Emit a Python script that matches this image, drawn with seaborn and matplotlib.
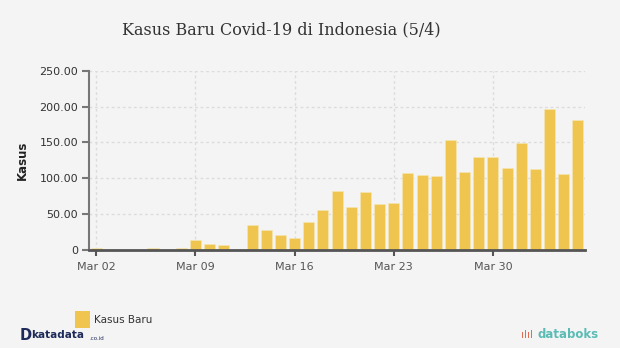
import matplotlib
matplotlib.use("Agg")
import matplotlib.pyplot as plt
import seaborn as sns
import pandas as pd
import numpy as np
from matplotlib.ticker import FixedLocator, FuncFormatter

dates = pd.date_range("2020-03-02", "2020-04-05", freq="D")
kasus_baru = [2, 0, 0, 0, 2, 0, 2, 13, 8, 7, 0, 35, 27, 21, 17, 38, 55, 82, 60, 81,
              64, 65, 107, 104, 103, 153, 109, 130, 129, 114, 149, 113, 196, 106, 181]
tick_labels = ["Mar 02", "Mar 09", "Mar 16", "Mar 23", "Mar 30"]
y_ticks = [0, 50, 100, 150, 200, 250]
title = "Kasus Baru Covid-19 di Indonesia (5/4)"
series_name = "Kasus Baru"

df = pd.DataFrame({"tanggal": dates, "kasus": kasus_baru})
df["idx"] = np.arange(len(df))

sns.set_style("white")
bg = "#f4f4f4"
fig = plt.figure(figsize=(6.2, 3.48), dpi=100, facecolor=bg)
ax = fig.add_axes([0.144, 0.2825, 0.7995, 0.5143])
ax.set_facecolor(bg)

bar_color = "#efc54f"
sns.barplot(data=df, x="idx", y="kasus", color=bar_color, saturation=1,
            width=0.78, ax=ax, native_scale=True, edgecolor="#f7e7b8", linewidth=0.4)

ax.set_xlim(-0.5, len(df) - 0.5)
ax.set_ylim(0, 250)
tick_pos = [i for i, d in enumerate(dates) if d.strftime("%b %d") in tick_labels]
ax.xaxis.set_major_locator(FixedLocator(tick_pos))
ax.set_xticklabels(tick_labels)
ax.yaxis.set_major_locator(FixedLocator(y_ticks))
ax.yaxis.set_major_formatter(FuncFormatter(lambda v, p: "0" if v == 0 else f"{v:.2f}"))

ax.grid(True, axis="both", color="#dcdcdc", linestyle=(0, (2, 2)), linewidth=1.0)
ax.set_axisbelow(True)
for s in ["top", "right"]:
    ax.spines[s].set_visible(False)
ax.spines["left"].set_color("#777777")
ax.spines["left"].set_linewidth(1.5)
ax.spines["bottom"].set_color("#555555")
ax.spines["bottom"].set_linewidth(2)
ax.spines["bottom"].set_zorder(5)

ax.tick_params(axis="x", length=4, width=1.5, color="#555555", labelsize=8,
               labelcolor="#555555", pad=5, bottom=True)
ax.tick_params(axis="y", length=5, width=1.5, color="#777777", labelsize=8,
               labelcolor="#333333", pad=3, left=True)
ax.set_xlabel("")
ax.set_ylabel("")
fig.text(22.5 / 620, 1 - 160 / 348, "Kasus", fontsize=8.5, fontweight="bold",
         color="#222222", rotation=90, ha="center", va="center")

fig.text(122 / 620, 1 - 30 / 348, title, fontsize=11.5, family="DejaVu Serif",
         color="#333333", ha="left", va="center")

# legend
fig.patches.append(plt.Rectangle((75 / 620, 1 - 328 / 348), 15 / 620, 17 / 348,
                                 transform=fig.transFigure, facecolor=bar_color,
                                 edgecolor="none"))
fig.text(94 / 620, 1 - 320 / 348, series_name, fontsize=7.5, color="#333333",
         ha="left", va="center")

# logos as text
fig.text(20 / 620, 1 - 335 / 348, "D", fontsize=10.5, fontweight="bold",
         color="#1e2a5a", ha="left", va="center")
fig.text(31 / 620, 1 - 335 / 348, "katadata", fontsize=7.5, fontweight="bold",
         color="#1e2a5a", ha="left", va="center")
fig.text(89 / 620, 1 - 338 / 348, ".co.id", fontsize=4, color="#1e2a5a",
         ha="left", va="center")
fig.text(521 / 620, 1 - 335 / 348, "ıIıl", fontsize=7.5, color="#e06b4f",
         ha="left", va="center")
fig.text(537 / 620, 1 - 335 / 348, "databoks", fontsize=8.5, fontweight="bold",
         color="#5bbcb5", ha="left", va="center")

fig.savefig("out.png", dpi=100, facecolor=bg)
